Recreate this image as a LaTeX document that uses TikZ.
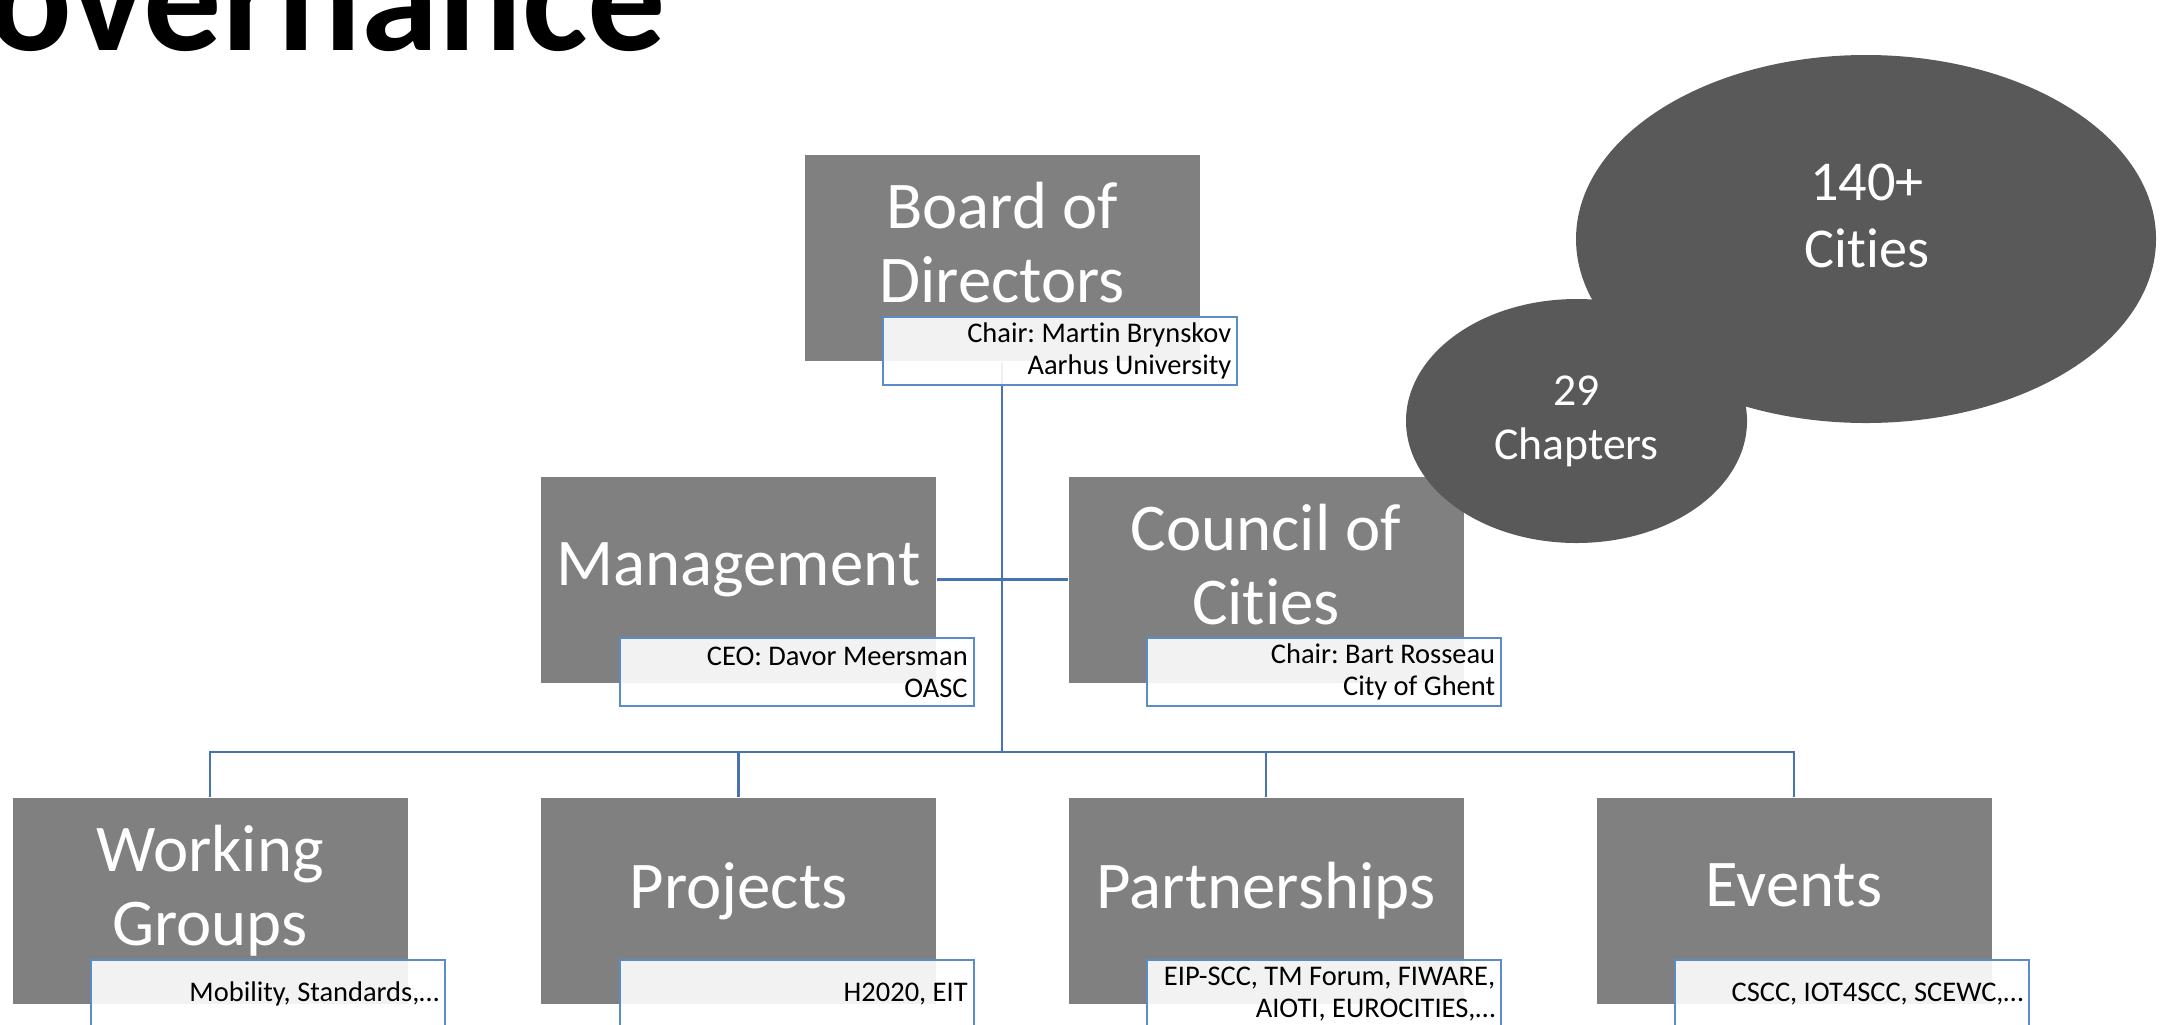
\documentclass[tikz,border=0pt]{standalone}
\usepackage{fontspec}
\setmainfont{Carlito}[RawFeature={-liga;-clig;-calt;-dlig}]
\usepackage{tikz}
\usetikzlibrary{calc, shapes.geometric}

\definecolor{boxgrey}{HTML}{808080}
\definecolor{bubblegrey}{HTML}{595959}
\definecolor{linkblue}{HTML}{4872B0}
\definecolor{noteblue}{HTML}{5B8BC8}

\tikzset{
	unit/.style={fill=boxgrey, text=white, minimum width=3.95cm, minimum height=2.06cm,
		inner sep=0pt, align=center, font=\fontsize{19}{21}\selectfont,
		execute at end node={\rule[-8.8pt]{0pt}{0pt}}},
	note/.style={draw=noteblue, line width=0.6pt, fill=white, fill opacity=0.9, text opacity=1,
		text=black, text width=3.42cm, align=flush right, inner xsep=0.06cm, inner ysep=0pt,
		minimum height=0.68cm, font=\fontsize{8.1}{9.1}\selectfont\frenchspacing},
	link/.style={draw=linkblue, line width=0.65pt},
	bubble/.style={ellipse, fill=bubblegrey, inner sep=0pt, text=white, align=center}
}

\begin{document}
\begin{tikzpicture}
	\useasboundingbox (0,-10.24) rectangle (21.72,0);
	\clip (0,-10.24) rectangle (21.72,0);
	\node[anchor=base east, inner sep=0pt, font=\bfseries\fontsize{44.4}{53}\selectfont] (title) at (6.67,-0.50) {Governance};
	% boxes
	\node[unit] (board) at (10.02,-2.58) {Board of\\Directors};
	\node[unit] (mgmt) at (7.385,-5.795) {Management};
	\node[unit] (council) at (12.66,-5.795) {Council of\\Cities};
	\node[unit] (wg) at (2.10,-9.01) {Working\\Groups};
	\node[unit] (proj) at (7.385,-9.01) {Projects};
	\node[unit] (partner) at (12.66,-9.01) {Partnerships};
	\node[unit] (events) at (17.94,-9.01) {Events};
	% connectors
	\coordinate (hub) at (10.02,-7.52);
	\draw[link] (board.south) -- (hub);
	\draw[link] (mgmt.east) -- (council.west);
	\draw[link] (wg.north) -- (wg.north |- hub) -- (events.north |- hub) -- (events.north);
	\draw[link] (proj.north) -- (proj.north |- hub);
	\draw[link] (partner.north) -- (partner.north |- hub);
	% notes under the boxes
	\node[note, anchor=north east] (board-note) at ($(board.south east)+(0.38,0.46)$) {Chair: Martin Brynskov\\Aarhus University};
	\node[note, anchor=north east] (mgmt-note) at ($(mgmt.south east)+(0.38,0.46)$) {CEO: Davor Meersman\\OASC};
	\node[note, anchor=north east] (council-note) at ($(council.south east)+(0.38,0.46)$) {Chair: Bart Rosseau\\City of Ghent};
	\node[note, anchor=north east] (wg-note) at ($(wg.south east)+(0.38,0.46)$) {Mobility, Standards,\dots};
	\node[note, anchor=north east] (proj-note) at ($(proj.south east)+(0.38,0.46)$) {H2020, EIT};
	\node[note, anchor=north east] (partner-note) at ($(partner.south east)+(0.38,0.46)$) {EIP-SCC, TM Forum, FIWARE,\\AIOTI, EUROCITIES,\dots};
	\node[note, anchor=north east] (events-note) at ($(events.south east)+(0.38,0.46)$) {CSCC, IOT4SCC, SCEWC,\dots};
	% bubbles
	\node[bubble, minimum width=5.80cm, minimum height=3.68cm] (cities) at (18.66,-2.39) {};
	\node[text=white, align=center, inner sep=0pt, font=\fontsize{16}{19.3}\selectfont] (cities-text) at (18.67,-2.16) {140+\\Cities};
	\node[bubble, minimum width=3.41cm, minimum height=2.44cm, font=\fontsize{13}{15.4}\selectfont] (chapters) at (15.765,-4.21) {29\\Chapters};
\end{tikzpicture}
\end{document}
